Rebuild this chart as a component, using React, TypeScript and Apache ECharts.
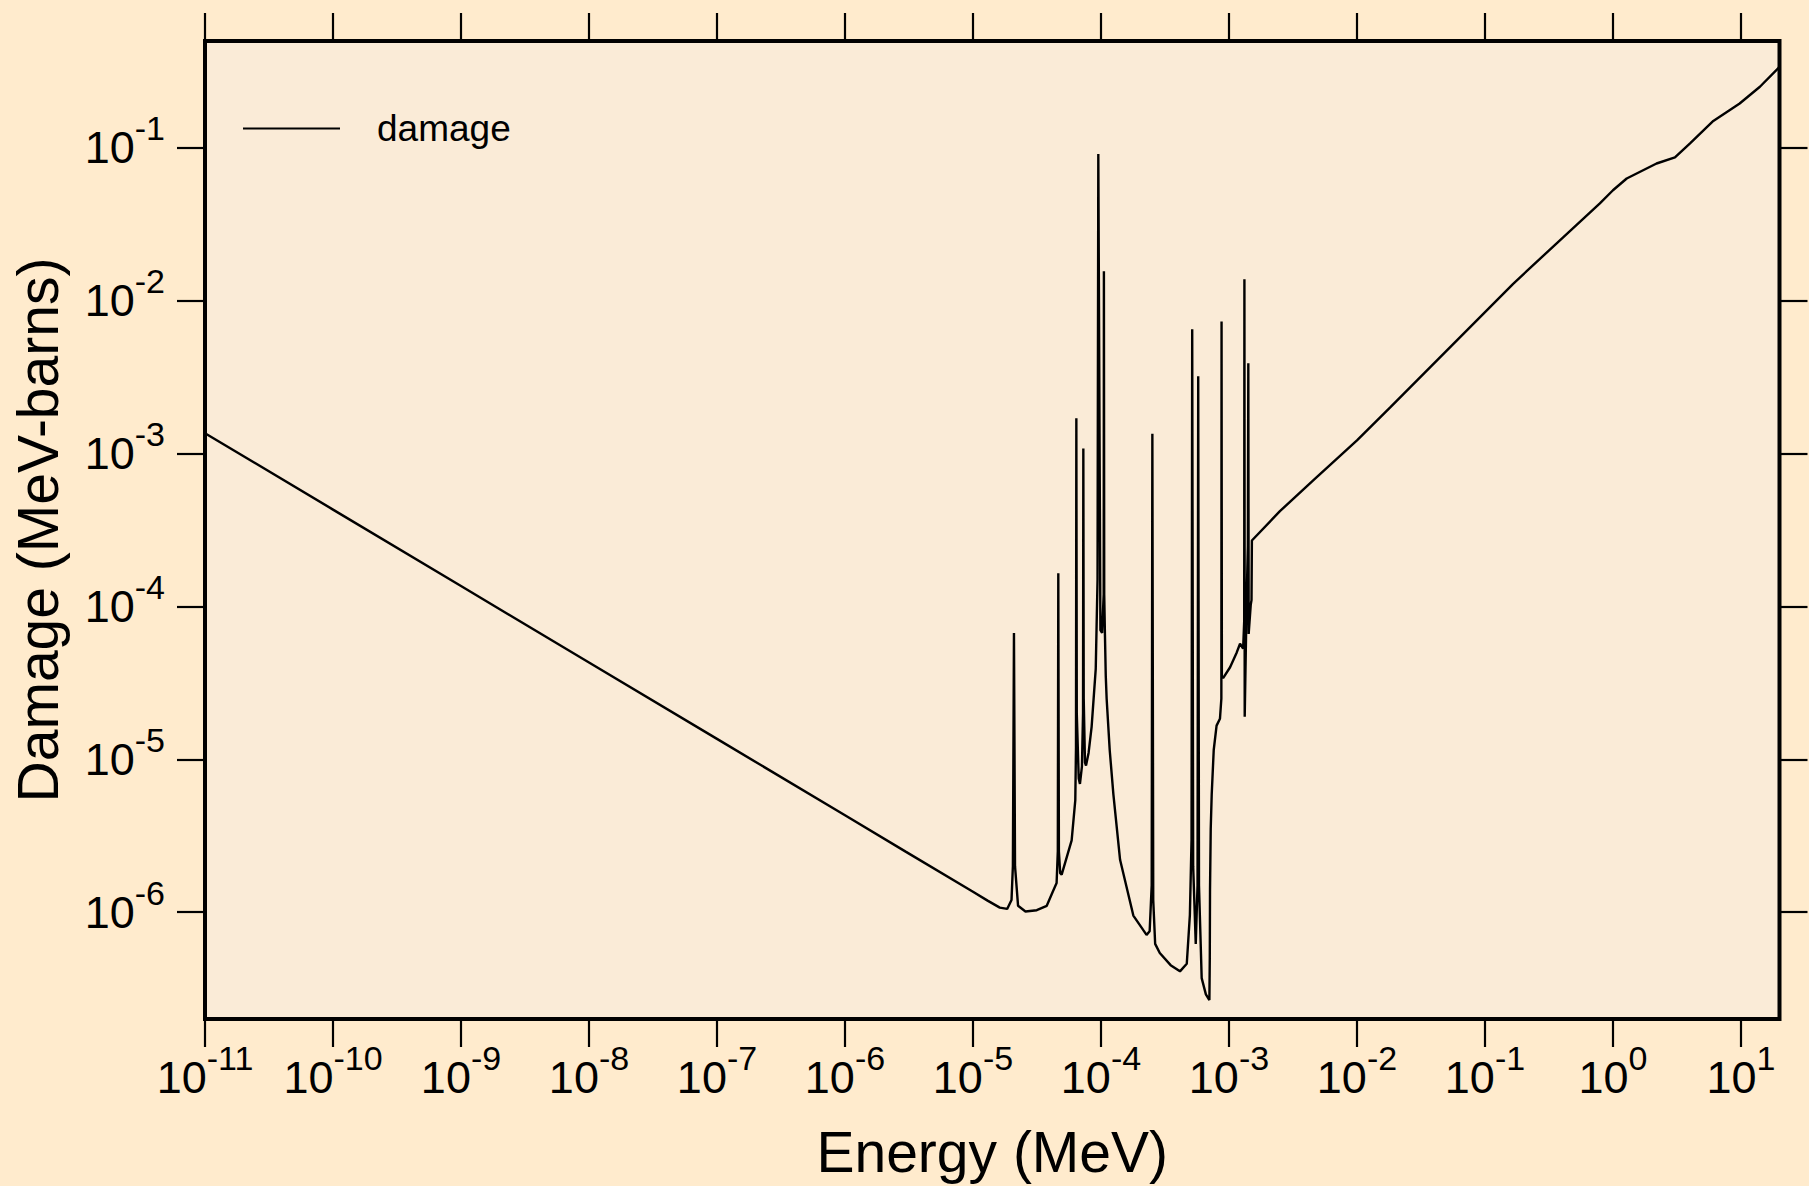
import React, { useEffect, useRef } from "react";
import * as echarts from "echarts";

// Energy grid (MeV)
const energyMeV: number[] = [
  1e-11, 1e-10, 1e-9, 1e-8, 1e-7, 1e-6, 3e-6, 1e-5, 1.3e-5, 1.62e-5, 1.85e-5,
  2.0e-5, 2.05e-5, 2.09e-5, 2.13e-5, 2.25e-5, 2.57e-5, 3.15e-5, 3.77e-5, 4.2e-5,
  4.5e-5, 4.6e-5, 4.64e-5, 4.69e-5, 4.8e-5, 4.93e-5, 5.9e-5, 6.3e-5, 6.38e-5,
  6.42e-5, 6.47e-5, 6.7e-5, 6.85e-5, 7.1e-5, 7.24e-5, 7.28e-5, 7.33e-5, 7.5e-5,
  7.64e-5, 8.0e-5, 8.45e-5, 9.1e-5, 9.4e-5, 9.53e-5, 9.9e-5, 1.02e-4, 1.05e-4,
  1.054e-4, 1.06e-4, 1.074e-4, 1.09e-4, 1.107e-4, 1.17e-4, 1.25e-4, 1.41e-4,
  1.79e-4, 2.27e-4, 2.4e-4, 2.49e-4, 2.52e-4, 2.56e-4, 2.65e-4, 2.88e-4, 3.5e-4,
  4.14e-4, 4.68e-4, 4.95e-4, 5.1e-4, 5.16e-4, 5.25e-4, 5.5e-4, 5.68e-4, 5.75e-4,
  5.83e-4, 6.12e-4, 6.6e-4, 7.03e-4, 7.08e-4, 7.11e-4, 7.2e-4, 7.33e-4, 7.6e-4,
  8.0e-4, 8.5e-4, 8.72e-4, 8.75e-4, 8.8e-4, 9.0e-4, 1.02e-3, 1.15e-3, 1.22e-3,
  1.29e-3, 1.315e-3, 1.32e-3, 1.327e-3, 1.374e-3, 1.405e-3, 1.416e-3, 1.425e-3,
  1.48e-3, 1.5e-3, 1.51e-3, 2.5e-3, 4.55e-3, 1.0e-2, 1.81e-2, 0.166, 0.41, 0.79,
  1.0, 1.28, 2.19, 3.05, 4.0, 6.08, 9.77, 14.06, 19.5, 20,
];

// Damage cross section (MeV-barns)
const damageMeVb: number[] = [
  1.36e-3, 4.3e-4, 1.36e-4, 4.3e-5, 1.36e-5, 4.3e-6, 2.48e-6, 1.36e-6, 1.19e-6, 1.07e-6, 1.05e-6,
  1.2e-6, 2.0e-6, 6.7e-5, 2.0e-6, 1.1e-6, 1.01e-6, 1.03e-6, 1.1e-6, 1.36e-6,
  1.55e-6, 2.5e-6, 1.65e-4, 2.5e-6, 1.8e-6, 1.76e-6, 2.95e-6, 5.4e-6, 1.2e-5,
  1.7e-3, 2.0e-5, 7.5e-6, 6.9e-6, 9.0e-6, 2.0e-5, 1.08e-3, 2.5e-5, 9.5e-6,
  9.1e-6, 1.1e-5, 1.63e-5, 3.9e-5, 1.5e-4, 0.091, 7.0e-5, 6.7e-5, 1.2e-4,
  0.0156, 1.2e-4, 6.5e-5, 3.5e-5, 2.5e-5, 1.15e-5, 5.9e-6, 2.2e-6,
  9.5e-7, 7.1e-7, 7.5e-7, 1.5e-6, 1.35e-3, 1.2e-6, 6.2e-7, 5.4e-7, 4.5e-7,
  4.1e-7, 4.6e-7, 9.6e-7, 3.0e-6, 6.5e-3, 2.0e-6, 6.2e-7, 1.5e-6, 3.2e-3,
  1.5e-6, 3.7e-7, 2.9e-7, 2.66e-7, 5.0e-7, 1.4e-6, 3.5e-6, 5.9e-6, 1.15e-5,
  1.66e-5, 1.84e-5, 2.5e-5, 7.3e-3, 3.5e-5, 3.4e-5, 4.0e-5, 5.0e-5, 5.7e-5,
  5.3e-5, 8.0e-5, 0.0138, 1.9e-5, 1.1e-4, 2.5e-4, 3.9e-3, 6.6e-5,
  1.03e-4, 1.1e-4, 2.7e-4, 4.2e-4, 6.67e-4, 1.22e-3, 2.0e-3, 0.0129, 0.0261, 0.0433,
  0.0528, 0.063, 0.079, 0.0865, 0.107, 0.15, 0.195, 0.251, 0.331, 0.34,
];

// Decade tick values
const xTickValues: number[] = [1e-11, 1e-10, 1e-9, 1e-8, 1e-7, 1e-6, 1e-5, 1e-4, 1e-3, 1e-2, 1e-1, 1, 10];
const yTickValues: number[] = [1e-6, 1e-5, 1e-4, 1e-3, 1e-2, 1e-1];

const seriesName = "damage";
const xTitle = "Energy (MeV)";
const yTitle = "Damage (MeV-barns)";

const FONT = "'Liberation Sans', Arial, Helvetica, sans-serif";

const powLabel = (v: number) => {
  const e = Math.round(Math.log10(v));
  return `{b|10}{s|${e}}`;
};

const labelRich = {
  b: { fontSize: 45, lineHeight: 73, color: "#000", fontFamily: FONT },
  s: { fontSize: 34, lineHeight: 34, verticalAlign: "top", color: "#000", fontFamily: FONT },
};

export default function App() {
  const ref = useRef<HTMLDivElement>(null);
  useEffect(() => {
    if (!ref.current) return;
    const chart = echarts.init(ref.current, undefined, { renderer: "svg" });
    const data = energyMeV.map((e, i) => [e, damageMeVb[i]]);
    const tickStyle = { show: true, length: 28, lineStyle: { color: "#000", width: 2.2 } };
    chart.setOption({
      animation: false,
      backgroundColor: "#FFEBCD",
      textStyle: { fontFamily: FONT, color: "#000" },
      grid: {
        show: true,
        left: 205,
        right: 29.5,
        top: 41,
        bottom: 167,
        backgroundColor: "#FAEBD7",
        borderColor: "#000",
        borderWidth: 4,
        containLabel: false,
      },
      legend: {
        show: true,
        left: 238,
        top: 105,
        icon: "rect",
        itemWidth: 97,
        itemHeight: 2,
        data: [seriesName],
        itemStyle: { color: "#000" },
        textStyle: { fontSize: 37, color: "#000", fontFamily: FONT, padding: [0, 0, 0, 32] },
      },
      xAxis: [
        {
          type: "log",
          logBase: 10,
          min: 1e-11,
          max: 20,
          position: "bottom",
          axisLine: { show: false },
          splitLine: { show: false },
          minorTick: { show: false },
          axisTick: { ...tickStyle, customValues: xTickValues },
          axisLabel: {
            show: true,
            customValues: xTickValues,
            margin: 22,
            formatter: powLabel,
            rich: labelRich,
          },
          name: xTitle,
          nameLocation: "middle",
          nameGap: 104,
          nameTextStyle: { fontSize: 57, color: "#000", fontFamily: FONT },
        },
        {
          type: "log",
          logBase: 10,
          min: 1e-11,
          max: 20,
          position: "top",
          axisLine: { show: false },
          splitLine: { show: false },
          minorTick: { show: false },
          axisTick: { ...tickStyle, customValues: xTickValues },
          axisLabel: { show: false },
        },
      ],
      yAxis: [
        {
          type: "log",
          logBase: 10,
          min: 2e-7,
          max: 0.5,
          position: "left",
          axisLine: { show: false },
          splitLine: { show: false },
          minorTick: { show: false },
          axisTick: { ...tickStyle, customValues: yTickValues },
          axisLabel: {
            show: true,
            customValues: yTickValues,
            margin: 40,
            formatter: powLabel,
            rich: labelRich,
          },
          name: yTitle,
          nameLocation: "middle",
          nameGap: 139,
          nameTextStyle: { fontSize: 57, color: "#000", fontFamily: FONT },
        },
        {
          type: "log",
          logBase: 10,
          min: 2e-7,
          max: 0.5,
          position: "right",
          axisLine: { show: false },
          splitLine: { show: false },
          minorTick: { show: false },
          axisTick: { ...tickStyle, customValues: yTickValues },
          axisLabel: { show: false },
        },
      ],
      series: [
        {
          name: seriesName,
          type: "line",
          data,
          xAxisIndex: 0,
          yAxisIndex: 0,
          symbol: "none",
          showSymbol: false,
          smooth: false,
          clip: true,
          lineStyle: { color: "#000", width: 2.4 },
          itemStyle: { color: "#000" },
        },
      ],
    });
    return () => chart.dispose();
  }, []);
  return (
    <div
      ref={ref}
      style={{ position: "absolute", left: 0, top: 0, width: 1809, height: 1186 }}
    />
  );
}
